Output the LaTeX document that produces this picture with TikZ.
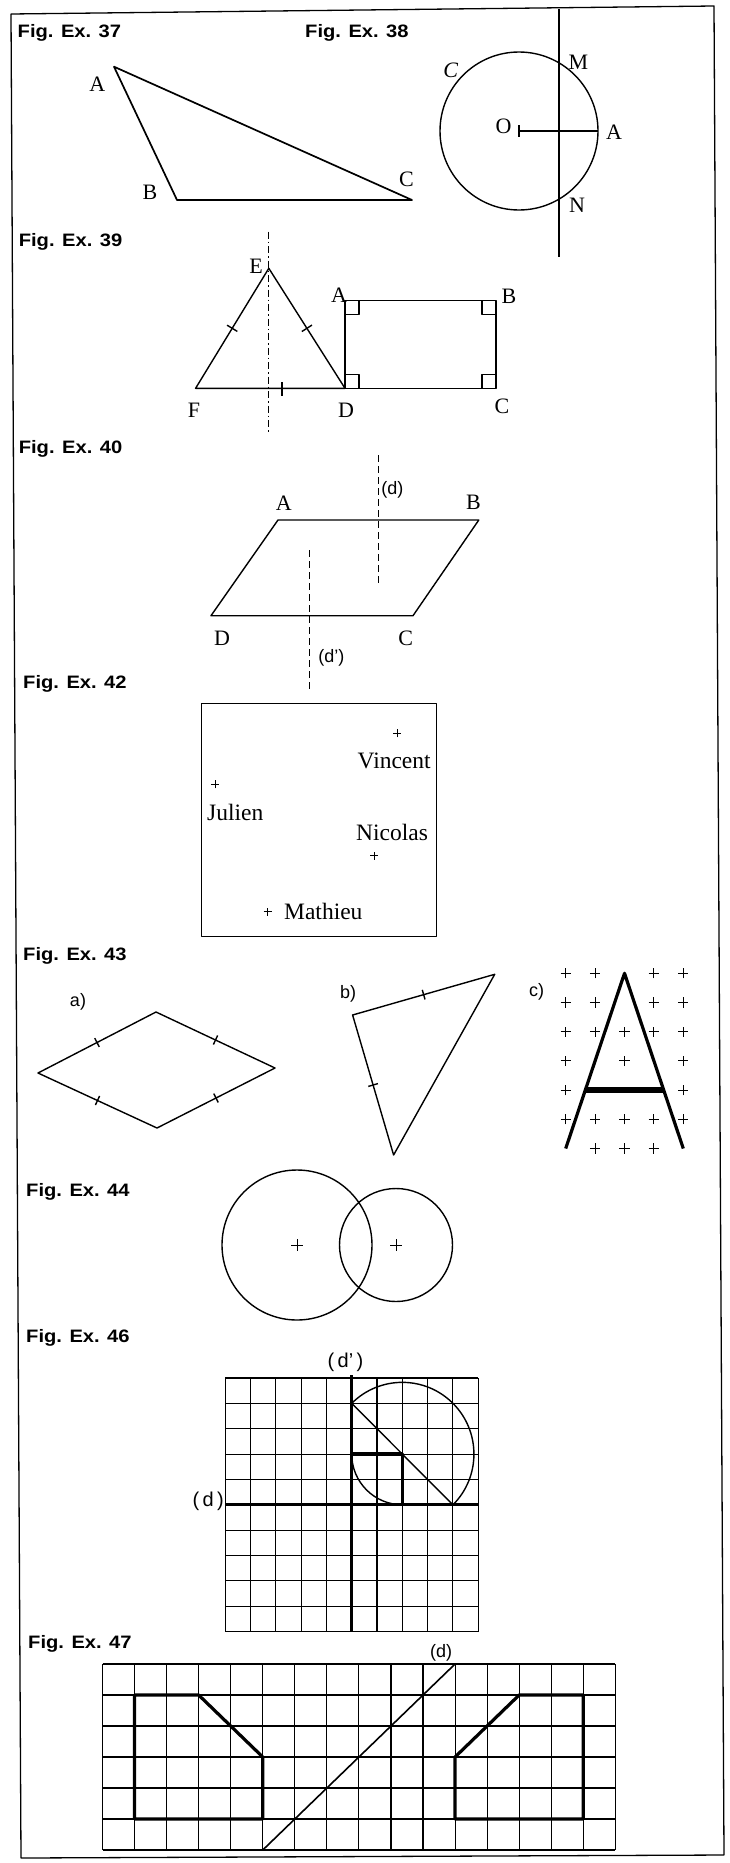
\documentclass[tikz,border=0pt]{standalone}
\usepackage{fontspec}
\setmainfont{Liberation Serif}
\setsansfont{Liberation Sans}
\newfontfamily\figfont{Liberation Sans}[UprightFont=* Bold,FakeStretch=1.12]
\usepackage{tikz}
\usetikzlibrary{calc,shapes.misc}

\begin{document}
\begin{tikzpicture}[x=1pt,y=-1pt,line join=round,
  figlbl/.style={font=\figfont\fontsize{18}{20}\selectfont,anchor=base west,inner sep=0pt},
  ptlbl/.style={font=\fontsize{22}{24}\selectfont,inner sep=0pt},
  namelbl/.style={font=\fontsize{23.5}{26}\selectfont,anchor=base,inner sep=0pt},
  sublbl/.style={font=\sffamily\fontsize{18}{20}\selectfont,inner sep=0pt},
  segln/.style={line width=1.4pt},
  heavy/.style={line width=3.2pt},
  gridln/.style={line width=1.1pt},
  dashln/.style={line width=1.2pt,dash pattern=on 7pt off 4pt},
  symln/.style={line width=1.1pt,dash pattern=on 7pt off 3pt on 1.5pt off 3pt},
  plusmk/.style={draw,cross out,rotate=45,minimum size=#1,inner sep=0pt,line width=0.9pt},
  plusmk/.default=6.4pt]
\useasboundingbox (0,0) rectangle (729,1863);

\draw[line width=1.3pt] (11,14) -- (714,6) -- (724,1855) -- (21,1858) -- cycle;

% Fig. Ex. 37
\node[figlbl] (f37) at (17.5,37.3) {Fig. Ex. 37};
\coordinate (tA) at (114,66.7);
\coordinate (tB) at (177,200);
\coordinate (tC) at (412,200);
\draw[line width=1.7pt] (tA) -- (tB) -- (tC) -- cycle;
\node[ptlbl] (nA) at (97.3,84.5) {A};
\node[ptlbl] (nB) at (150,192.5) {B};
\node[ptlbl] (nC) at (406.4,179) {C};

% Fig. Ex. 38
\node[figlbl] (f38) at (305,37.3) {Fig. Ex. 38};
\coordinate (cO) at (519,131);
\coordinate (cA) at (598,131);
\coordinate (mT) at (559,9);
\coordinate (mB) at (559,257);
\draw[segln] (cO) circle[radius=79pt];
\draw[line width=1.8pt] (mT) -- (mB);
\draw[segln] (cO) -- (cA);
\draw[segln] ($(cO)+(0,-6)$) -- ($(cO)+(0,6)$);
\node[ptlbl,font=\itshape\fontsize{22}{24}\selectfont] (nCc) at (450.6,70) {C};
\node[ptlbl] (nM) at (578.3,62.5) {M};
\node[ptlbl] (nO) at (503.5,126.7) {O};
\node[ptlbl] (nAc) at (614,132.5) {A};
\node[ptlbl] (nN) at (577,205) {N};

% Fig. Ex. 39
\node[figlbl] (f39) at (18.6,246.7) {Fig. Ex. 39};
\coordinate (sE) at (268.8,268.3);
\coordinate (sF) at (195.6,388.3);
\coordinate (sD) at (345,388.3);
\coordinate (rA) at (345,300.7);
\coordinate (rB) at (496,300.7);
\coordinate (rC) at (496,388.3);
\coordinate (ax1) at (268.8,231.7);
\coordinate (ax2) at (268.8,431.7);
\coordinate (fdT) at (282,389);
\draw[segln] (sE) -- (sF) -- (sD) -- cycle;
\draw[segln] (rA) -- (rB) -- (rC) -- (sD) -- cycle;
\draw[symln] (ax1) -- (ax2);
\foreach \p/\q in {sE/sF,sE/sD}
  \draw[segln] ($(\p)!0.5!(\q)!6pt!90:(\q)$) -- ($(\p)!0.5!(\q)!6pt!-90:(\q)$);
\draw[segln] ($(fdT)+(0,-7)$) -- ($(fdT)+(0,7)$);
\draw[segln] ($(rA)+(14,0)$) |- ($(rA)+(0,14)$);
\draw[segln] ($(rB)+(-14,0)$) |- ($(rB)+(0,14)$);
\draw[segln] ($(rC)+(-14,0)$) |- ($(rC)+(0,-14)$);
\draw[segln] ($(sD)+(14,0)$) |- ($(sD)+(0,-14)$);
\node[ptlbl] (nE) at (256,266) {E};
\node[ptlbl] (nA2) at (339,295) {A};
\node[ptlbl] (nB2) at (509,296) {B};
\node[ptlbl] (nF) at (194,410) {F};
\node[ptlbl] (nD2) at (346,410) {D};
\node[ptlbl] (nC2) at (502,406.7) {C};

% Fig. Ex. 40
\node[figlbl] (f40) at (18.6,453) {Fig. Ex. 40};
\coordinate (pA) at (278,520);
\coordinate (pB) at (478.8,520);
\coordinate (pC) at (413,615.7);
\coordinate (pD) at (211,615.7);
\coordinate (d1) at (378.2,455);
\coordinate (d2) at (378.2,583);
\coordinate (e1) at (309.8,550);
\coordinate (e2) at (309.8,690);
\draw[segln] (pA) -- (pB) -- (pC) -- (pD) -- cycle;
\draw[dashln] (d1) -- (d2);
\draw[dashln] (e1) -- (e2);
\node[ptlbl] (nA3) at (283.7,503.3) {A};
\node[ptlbl] (nB3) at (473.5,502.5) {B};
\node[ptlbl] (nC3) at (405.7,638) {C};
\node[ptlbl] (nD3) at (222,638.3) {D};
\node[sublbl] (nd3) at (392.4,490) {(d)};
\node[sublbl] (ne3) at (331.4,657.5) {(d')};

% Fig. Ex. 42
\node[figlbl] (f42) at (23,688) {Fig. Ex. 42};
\coordinate (bx1) at (201.7,703.3);
\coordinate (bx2) at (436.7,936.7);
\draw[segln] (bx1) rectangle (bx2);
\node[plusmk=5pt] (vin) at (397.3,733.3) {};
\node[plusmk=5pt] (jul) at (215,784.3) {};
\node[plusmk=5pt] (nic) at (374.3,855.7) {};
\node[plusmk=5pt] (mat) at (267.7,911.7) {};
\node[namelbl] (tvin) at (394.2,768) {Vincent};
\node[namelbl] (tjul) at (235.3,820.5) {Julien};
\node[namelbl] (tnic) at (392,840) {Nicolas};
\node[namelbl] (tmat) at (323.3,919.5) {Mathieu};

% Fig. Ex. 43
\node[figlbl] (f43) at (23,960.7) {Fig. Ex. 43};
\node[sublbl] (sa) at (78,1001.7) {a)};
\node[sublbl] (sb) at (348,994) {b)};
\node[sublbl] (sc) at (536.7,991.7) {c)};
\coordinate (qL) at (38,1073);
\coordinate (qT) at (156,1012);
\coordinate (qR) at (275,1068);
\coordinate (qB) at (157,1128);
\draw[segln] (qL) -- (qT) -- (qR) -- (qB) -- cycle;
\foreach \p/\q in {qL/qT,qT/qR,qR/qB,qB/qL}
  \draw[segln] ($(\p)!0.5!(\q)!5pt!90:(\q)$) -- ($(\p)!0.5!(\q)!5pt!-90:(\q)$);
\coordinate (kP) at (352.6,1015);
\coordinate (kQ) at (494.7,974.3);
\coordinate (kR) at (393.6,1155);
\draw[segln] (kP) -- (kQ) -- (kR) -- cycle;
\foreach \p/\q in {kP/kQ,kP/kR}
  \draw[segln] ($(\p)!0.5!(\q)!5pt!90:(\q)$) -- ($(\p)!0.5!(\q)!5pt!-90:(\q)$);
\begin{scope}[shift={(565.7,973.3)},x=29.4pt,y=-29.2pt]
  \foreach \c/\r in {0/0,1/0,3/0,4/0,0/1,1/1,3/1,4/1,0/2,1/2,2/2,3/2,4/2,
                     0/3,2/3,4/3,0/4,4/4,0/5,1/5,2/5,3/5,4/5,1/6,2/6,3/6}
    \node[plusmk] (g\c\r) at (\c,\r) {};
  \coordinate (aT) at (2,0);
  \coordinate (aL) at (0,6);
  \coordinate (aR) at (4,6);
  \draw[line width=3.2pt] (aL) -- (aT) -- (aR);
  \draw[line width=6.5pt] ($(aL)!1/3!(aT)$) -- ($(aR)!1/3!(aT)$);
\end{scope}

% Fig. Ex. 44
\node[figlbl] (f44) at (26,1196.7) {Fig. Ex. 44};
\node[plusmk=7pt] (o1) at (297,1245) {};
\node[plusmk=7pt] (o2) at (396,1245) {};
\draw[segln] (o1.center) circle[radius=75pt];
\draw[segln] (o2.center) circle[radius=56.5pt];

% Fig. Ex. 46
\node[figlbl] (f46) at (26,1342.7) {Fig. Ex. 46};
\begin{scope}[shift={(225.2,1378)},x=25.3pt,y=-25.35pt]
  \foreach \i in {0,...,10} {
    \draw[gridln] (\i,0) -- (\i,10);
    \draw[gridln] (0,\i) -- (10,\i);
  }
  \coordinate (dpT) at (5,-0.1);
  \coordinate (dpB) at (5,10);
  \coordinate (dL) at (0,5);
  \coordinate (dR) at (10,5);
  \draw[heavy] (dpT) -- (dpB);
  \draw[heavy] (dL) -- (dR);
  \coordinate (hP) at (5,1);
  \coordinate (hQ) at (9,5);
  \coordinate (hS) at (5,3);
  \coordinate (hK) at (7,3);
  \coordinate (hL) at (7,5);
  \draw[heavy] (hS) -- (hK) -- (hL);
  \draw[segln] (hP) -- (hQ);
  \draw[segln] (hP) arc[start angle=225,end angle=405,radius=2.83];
  \draw[segln] (hS) arc[start angle=180,end angle=90,radius=2];
\end{scope}
\node[sublbl,font=\sffamily\fontsize{20}{22}\selectfont] (nd6) at (345.5,1362.5) {(\,d'\,)};
\node[sublbl,font=\sffamily\fontsize{20}{22}\selectfont] (ne6) at (208.3,1501.7) {(\,d\,)};

% Fig. Ex. 47
\node[figlbl] (f47) at (28,1648.3) {Fig. Ex. 47};
\begin{scope}[shift={(102.5,1664)},x=32.05pt,y=-31pt]
  \foreach \i in {0,...,16} \draw[gridln] (\i,0) -- (\i,6);
  \foreach \j in {0,...,6} \draw[gridln] (0,\j) -- (16,\j);
  \coordinate (wB) at (5,6);
  \coordinate (wT) at (11,0);
  \draw[line width=1.6pt] (wB) -- (wT);
  \draw[heavy] (1,1) -- (3,1) -- (5,3) -- (5,5) -- (1,5) -- cycle;
  \draw[heavy] (13,1) -- (15,1) -- (15,5) -- (11,5) -- (11,3) -- cycle;
\end{scope}
\node[sublbl] (nd7) at (441,1653) {(d)};
\end{tikzpicture}
\end{document}
